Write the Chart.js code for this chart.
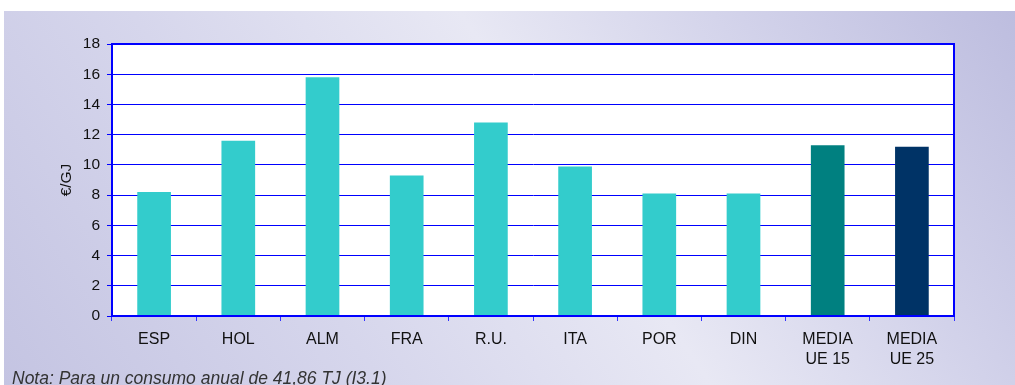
<!DOCTYPE html>
<html lang="es">
<head>
<meta charset="utf-8">
<script src="https://cdn.jsdelivr.net/npm/chart.js@4/dist/chart.umd.min.js"></script>
<style>
  html, body { margin: 0; padding: 0; background: #ffffff; }
  #frame { position: relative; width: 1015px; height: 385px; overflow: hidden; background: #ffffff; }
  #panel {
    position: absolute; left: 4px; top: 11px; width: 1011px; height: 374px;
    background: linear-gradient(56deg, #c4c4e2 0%, #d6d6ec 30%, #e8e8f4 56%, #d2d2ea 78%, #bdbddf 100%);
  }
  #chart { position: absolute; left: 0; top: 0; }
  #nota {
    position: absolute; left: 12px; top: 368px;
    font: italic 17.5px "Liberation Sans", Arial, sans-serif; color: #333333;
    white-space: nowrap;
  }
</style>
</head>
<body>
<div id="frame">
  <div id="panel"></div>
  <canvas id="chart" width="1015" height="385"></canvas>
  <div id="nota">Nota: Para un consumo anual de 41,86 TJ (I3.1)</div>
</div>
<script>
// Precio por país y medias europeas, en €/GJ
const categories = ['ESP', 'HOL', 'ALM', 'FRA', 'R.U.', 'ITA', 'POR', 'DIN', ['MEDIA', 'UE 15'], ['MEDIA', 'UE 25']];
const prices = [8.2, 11.6, 15.8, 9.3, 12.8, 9.9, 8.1, 8.1, 11.3, 11.2];
const barColors = ['#33cccc', '#33cccc', '#33cccc', '#33cccc', '#33cccc', '#33cccc', '#33cccc', '#33cccc', '#008080', '#003366'];
const yTicks = { min: 0, max: 18, step: 2 };
const yTitle = '€/GJ';

const BLUE = '#0000ff';
const FONT = 'Liberation Sans, Arial, sans-serif';

// white plot area and blue frame around it
const plotFrame = {
  id: 'plotFrame',
  beforeDraw(chart) {
    const { ctx, chartArea: a } = chart;
    ctx.save();
    ctx.fillStyle = '#ffffff';
    ctx.fillRect(a.left, a.top, a.right - a.left, a.bottom - a.top);
    ctx.restore();
  },
  afterDraw(chart) {
    const { ctx, chartArea: a } = chart;
    ctx.save();
    ctx.strokeStyle = BLUE;
    ctx.lineWidth = 2;
    ctx.strokeRect(a.left, a.top, a.right - a.left, a.bottom - a.top);
    ctx.restore();
  }
};

new Chart(document.getElementById('chart'), {
  type: 'bar',
  data: {
    labels: categories,
    datasets: [{
      data: prices,
      backgroundColor: barColors,
      borderWidth: 0,
      categoryPercentage: 0.8,
      barPercentage: 0.5
    }]
  },
  options: {
    responsive: false,
    animation: false,
    devicePixelRatio: 1,
    layout: { padding: { left: 0, right: 61, top: 44, bottom: 0 } },
    plugins: { legend: { display: false }, tooltip: { enabled: false } },
    scales: {
      x: {
        offset: true,
        afterFit(scale) { scale.height = 69; },
        grid: {
          offset: true,
          drawOnChartArea: false,
          drawTicks: true,
          tickLength: 5,
          color: '#3333ff',
          lineWidth: 1
        },
        border: { display: true, color: BLUE, width: 2 },
        ticks: {
          color: '#111111',
          padding: 9,
          maxRotation: 0,
          autoSkip: false,
          font: { family: FONT, size: 16, lineHeight: 1.25 }
        }
      },
      y: {
        min: yTicks.min,
        max: yTicks.max,
        afterFit(scale) { scale.width = 112; },
        grid: {
          color: BLUE,
          lineWidth: 1,
          drawTicks: true,
          tickLength: 5
        },
        border: { display: true, color: BLUE, width: 2 },
        ticks: {
          stepSize: yTicks.step,
          color: '#111111',
          padding: 7,
          font: { family: FONT, size: 15.5 }
        },
        title: {
          display: true,
          text: yTitle,
          color: '#111111',
          padding: { top: 57, bottom: 0 },
          font: { family: FONT, size: 15.5 }
        }
      }
    }
  },
  plugins: [plotFrame]
});
</script>
</body>
</html>
